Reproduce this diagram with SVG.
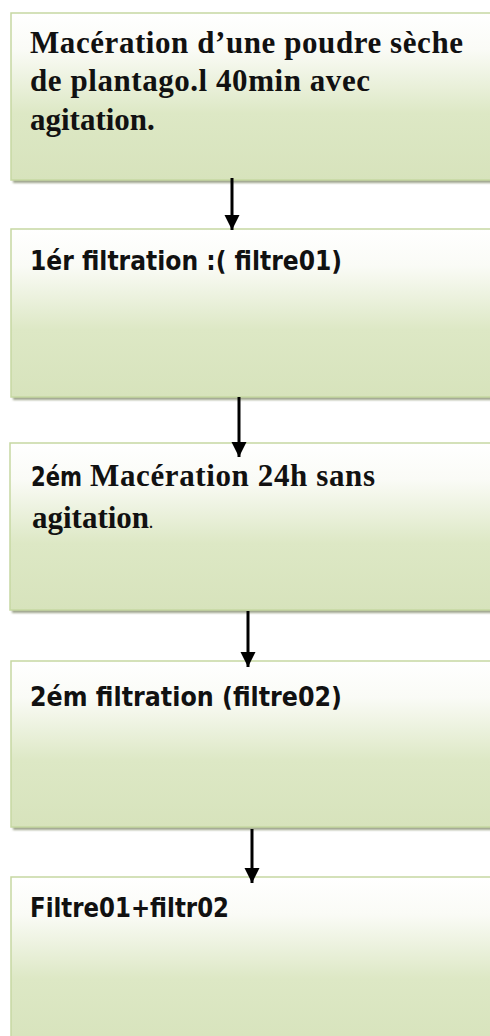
<svg xmlns="http://www.w3.org/2000/svg" width="490" height="1036" viewBox="0 0 490 1036">
  <defs>
    <linearGradient id="boxFill" x1="0" y1="0" x2="0" y2="1">
      <stop offset="0" stop-color="#ffffff"/>
      <stop offset="0.22" stop-color="#fafbf6"/>
      <stop offset="0.6" stop-color="#dde8c5"/>
      <stop offset="1" stop-color="#d7e3bc"/>
    </linearGradient>
    <filter id="soft" x="-5%" y="-5%" width="110%" height="120%">
      <feGaussianBlur stdDeviation="1"/>
    </filter>
    <marker id="head" markerWidth="16" markerHeight="16" refX="15" refY="7.5" orient="auto" markerUnits="userSpaceOnUse">
      <path d="M0,0 L15,7.5 L0,15 Z" fill="#000"/>
    </marker>
  </defs>
  <style>
    .shadow { fill: #9ea48c; filter: url(#soft); }
    .box { fill: url(#boxFill); stroke: #c6d8a2; stroke-width: 1.5; }
    .serif { font-family: "Liberation Serif", "Times New Roman", serif; font-weight: bold; font-size: 31px; fill: #111; }
    .sans { font-family: "DejaVu Sans", "Liberation Sans", sans-serif; font-weight: bold; font-size: 27px; fill: #111; }
    .conn { stroke: #000; stroke-width: 3; fill: none; marker-end: url(#head); }
  </style>

  <rect width="490" height="1036" fill="#ffffff"/>

  <!-- step 1 -->
  <g id="maceration1">
    <rect class="shadow" x="13" y="16" width="490" height="167"/>
    <rect class="box" x="11" y="13" width="490" height="167"/>
    <text class="serif" x="30" y="53" textLength="433" lengthAdjust="spacing">Macération d’une poudre sèche</text>
    <text class="serif" x="30" y="91" textLength="340" lengthAdjust="spacing">de plantago.l 40min avec</text>
    <text class="serif" x="30" y="130">agitation.</text>
  </g>

  <!-- step 2 -->
  <g id="filtration1">
    <rect class="shadow" x="13" y="232" width="490" height="168"/>
    <rect class="box" x="11" y="229" width="490" height="168"/>
    <text class="sans" x="30" y="270" textLength="312" lengthAdjust="spacingAndGlyphs">1ér filtration :( filtre01)</text>
  </g>

  <!-- step 3 -->
  <g id="maceration2">
    <rect class="shadow" x="12" y="446" width="490" height="167"/>
    <rect class="box" x="10" y="443" width="490" height="167"/>
    <text x="31" y="486"><tspan class="sans" textLength="51" lengthAdjust="spacingAndGlyphs">2ém</tspan><tspan class="serif" x="90" textLength="285" lengthAdjust="spacing">Macération 24h sans</tspan></text>
    <text class="serif" x="32" y="528">agitation<tspan font-size="14px">.</tspan></text>
  </g>

  <!-- step 4 -->
  <g id="filtration2">
    <rect class="shadow" x="13" y="664" width="490" height="166"/>
    <rect class="box" x="11" y="661" width="490" height="166"/>
    <text class="sans" x="30" y="706" textLength="312" lengthAdjust="spacingAndGlyphs">2ém filtration (filtre02)</text>
  </g>

  <!-- step 5 -->
  <g id="melange">
    <rect class="shadow" x="13" y="880" width="490" height="170"/>
    <rect class="box" x="11" y="877" width="490" height="170"/>
    <text class="sans" x="30" y="917" textLength="199" lengthAdjust="spacingAndGlyphs">Filtre01+filtr02</text>
  </g>

  <!-- connectors -->
  <g id="connectors">
    <line class="conn" x1="232" y1="178" x2="232" y2="230"/>
    <line class="conn" x1="239" y1="397" x2="239" y2="457"/>
    <line class="conn" x1="248" y1="611" x2="248" y2="667"/>
    <line class="conn" x1="252" y1="829" x2="252" y2="883"/>
  </g>
</svg>
